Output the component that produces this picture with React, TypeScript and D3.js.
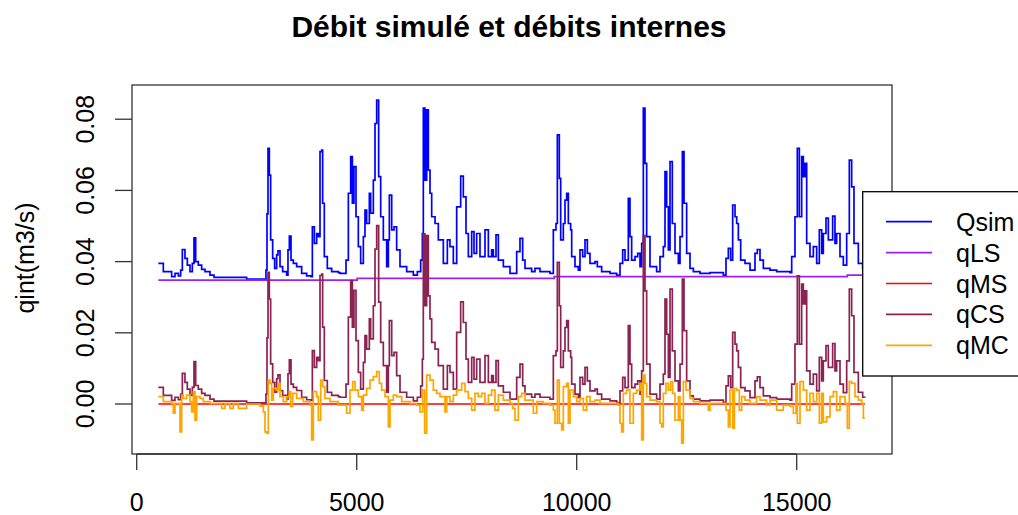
import React from 'react';
import * as d3 from 'd3';

// time steps shared by Qsim and qCS
const steps = [491, 605, 794, 870, 946, 999, 1037, 1097, 1150, 1211, 1264, 1302, 1340, 1400, 1476, 1552, 1666, 1757, 2461, 2499,
  2916, 2938, 2961, 2984, 3014, 3044, 3090, 3135, 3181, 3211, 3257, 3317, 3408, 3438, 3469, 3507, 3560, 3635, 3749, 3863,
  3961, 3992, 4037, 4090, 4128, 4166, 4204, 4226, 4264, 4332, 4431, 4582, 4620, 4734, 4757, 4810, 4863, 4901, 4938, 4984,
  5037, 5090, 5151, 5188, 5226, 5287, 5317, 5378, 5416, 5454, 5499, 5545, 5605, 5681, 5719, 5742, 5795, 5848, 5908, 5984,
  6135, 6287, 6378, 6454, 6492, 6514, 6552, 6590, 6628, 6666, 6704, 6780, 6855, 6969, 7060, 7120, 7196, 7272, 7363, 7423,
  7484, 7537, 7613, 7666, 7726, 7802, 7916, 7992, 8067, 8105, 8166, 8219, 8333, 8484, 8598, 8636, 8711, 8772, 8825, 8976,
  9052, 9166, 9393, 9469, 9529, 9560, 9605, 9636, 9696, 9734, 9772, 9810, 9863, 9886, 9961, 10037, 10075, 10136, 10189, 10242,
  10302, 10416, 10469, 10567, 10757, 10908, 10984, 11045, 11098, 11173, 11211, 11249, 11325, 11386, 11439, 11477, 11514, 11552, 11590, 11666,
  11817, 11893, 11969, 12007, 12045, 12083, 12121, 12173, 12234, 12310, 12348, 12401, 12439, 12499, 12575, 12651, 12802, 13030, 13333, 13393,
  13446, 13499, 13545, 13598, 13636, 13674, 13727, 13825, 13939, 14052, 14105, 14166, 14242, 14393, 14545, 14696, 14848, 14886, 14961, 15014,
  15060, 15113, 15151, 15189, 15227, 15302, 15378, 15454, 15514, 15567, 15605, 15666, 15719, 15817, 15870, 15908, 15984, 16060, 16136, 16196,
  16249, 16302, 16401, 16499, 16550];

const qsim = [0.0395, 0.0372, 0.0358, 0.0367, 0.0360, 0.0376, 0.0434, 0.0409, 0.0390, 0.0372, 0.0395, 0.0467, 0.0400, 0.0390, 0.0378, 0.0372, 0.0362, 0.0356, 0.0356, 0.0351,
  0.0351, 0.0376, 0.0534, 0.0718, 0.0643, 0.0461, 0.0409, 0.0381, 0.0419, 0.0430, 0.0386, 0.0372, 0.0362, 0.0433, 0.0472, 0.0404, 0.0395, 0.0386, 0.0367, 0.0360,
  0.0358, 0.0498, 0.0451, 0.0479, 0.0470, 0.0709, 0.0713, 0.0564, 0.0414, 0.0381, 0.0372, 0.0369, 0.0367, 0.0367, 0.0404, 0.0592, 0.0695, 0.0564, 0.0667, 0.0526,
  0.0442, 0.0395, 0.0470, 0.0545, 0.0507, 0.0592, 0.0536, 0.0629, 0.0788, 0.0854, 0.0639, 0.0526, 0.0461, 0.0386, 0.0461, 0.0587, 0.0489, 0.0498, 0.0433, 0.0386,
  0.0372, 0.0362, 0.0372, 0.0404, 0.0479, 0.0831, 0.0629, 0.0826, 0.0657, 0.0592, 0.0526, 0.0507, 0.0461, 0.0395, 0.0461, 0.0442, 0.0395, 0.0554, 0.0640, 0.0582,
  0.0479, 0.0414, 0.0484, 0.0423, 0.0479, 0.0414, 0.0489, 0.0414, 0.0433, 0.0414, 0.0475, 0.0404, 0.0386, 0.0367, 0.0367, 0.0428, 0.0465, 0.0404, 0.0381, 0.0372,
  0.0381, 0.0372, 0.0367, 0.0489, 0.0507, 0.0756, 0.0634, 0.0461, 0.0507, 0.0573, 0.0592, 0.0507, 0.0489, 0.0414, 0.0386, 0.0376, 0.0433, 0.0414, 0.0461, 0.0423,
  0.0395, 0.0400, 0.0386, 0.0372, 0.0367, 0.0362, 0.0395, 0.0433, 0.0404, 0.0578, 0.0470, 0.0404, 0.0414, 0.0423, 0.0386, 0.0451, 0.0831, 0.0676, 0.0470, 0.0386,
  0.0372, 0.0414, 0.0442, 0.0653, 0.0554, 0.0433, 0.0681, 0.0507, 0.0423, 0.0395, 0.0470, 0.0709, 0.0564, 0.0423, 0.0381, 0.0372, 0.0367, 0.0369, 0.0362, 0.0409,
  0.0437, 0.0404, 0.0559, 0.0526, 0.0507, 0.0461, 0.0404, 0.0395, 0.0376, 0.0423, 0.0434, 0.0404, 0.0381, 0.0376, 0.0372, 0.0372, 0.0369, 0.0414, 0.0526, 0.0718,
  0.0526, 0.0695, 0.0639, 0.0676, 0.0451, 0.0414, 0.0442, 0.0395, 0.0489, 0.0423, 0.0479, 0.0522, 0.0461, 0.0528, 0.0451, 0.0479, 0.0414, 0.0390, 0.0479, 0.0685,
  0.0610, 0.0451, 0.0395, 0.0381, 0.0380];

const qcs = [0.0047, 0.0024, 0.0010, 0.0019, 0.0012, 0.0028, 0.0086, 0.0061, 0.0042, 0.0024, 0.0047, 0.0119, 0.0052, 0.0042, 0.0030, 0.0024, 0.0014, 0.0008, 0.0008, 0.0003,
  0.0003, 0.0028, 0.0186, 0.0370, 0.0295, 0.0113, 0.0061, 0.0033, 0.0071, 0.0082, 0.0038, 0.0024, 0.0014, 0.0085, 0.0124, 0.0056, 0.0047, 0.0038, 0.0019, 0.0012,
  0.0010, 0.0150, 0.0103, 0.0131, 0.0122, 0.0361, 0.0365, 0.0216, 0.0066, 0.0033, 0.0024, 0.0021, 0.0019, 0.0019, 0.0056, 0.0244, 0.0347, 0.0216, 0.0319, 0.0178,
  0.0089, 0.0042, 0.0117, 0.0192, 0.0154, 0.0239, 0.0183, 0.0276, 0.0435, 0.0501, 0.0286, 0.0173, 0.0108, 0.0033, 0.0108, 0.0234, 0.0136, 0.0145, 0.0080, 0.0033,
  0.0019, 0.0009, 0.0019, 0.0051, 0.0126, 0.0478, 0.0276, 0.0473, 0.0304, 0.0239, 0.0173, 0.0154, 0.0108, 0.0042, 0.0108, 0.0089, 0.0042, 0.0201, 0.0287, 0.0229,
  0.0126, 0.0061, 0.0131, 0.0070, 0.0126, 0.0061, 0.0136, 0.0061, 0.0080, 0.0061, 0.0122, 0.0051, 0.0033, 0.0014, 0.0014, 0.0075, 0.0112, 0.0051, 0.0028, 0.0019,
  0.0028, 0.0019, 0.0014, 0.0136, 0.0149, 0.0398, 0.0276, 0.0103, 0.0149, 0.0215, 0.0234, 0.0149, 0.0131, 0.0056, 0.0028, 0.0018, 0.0075, 0.0056, 0.0103, 0.0065,
  0.0037, 0.0042, 0.0028, 0.0014, 0.0009, 0.0004, 0.0037, 0.0075, 0.0046, 0.0220, 0.0112, 0.0046, 0.0056, 0.0065, 0.0028, 0.0093, 0.0473, 0.0318, 0.0112, 0.0028,
  0.0014, 0.0056, 0.0084, 0.0295, 0.0196, 0.0075, 0.0323, 0.0149, 0.0065, 0.0037, 0.0112, 0.0351, 0.0206, 0.0065, 0.0023, 0.0014, 0.0009, 0.0011, 0.0004, 0.0051,
  0.0079, 0.0046, 0.0201, 0.0168, 0.0149, 0.0103, 0.0046, 0.0037, 0.0018, 0.0065, 0.0076, 0.0046, 0.0023, 0.0018, 0.0014, 0.0014, 0.0011, 0.0056, 0.0168, 0.0360,
  0.0168, 0.0337, 0.0281, 0.0318, 0.0093, 0.0056, 0.0084, 0.0037, 0.0131, 0.0065, 0.0121, 0.0164, 0.0103, 0.0170, 0.0093, 0.0121, 0.0056, 0.0032, 0.0121, 0.0323,
  0.0248, 0.0089, 0.0033, 0.0019, 0.0018];

// qLS: slow component, a few plateaus
const lsSteps = [491, 5010, 9490, 16150, 16550];
const qls = [0.0348, 0.0353, 0.0358, 0.0362, 0.0362];

// qMS: flat zero
const msSteps = [491, 16550];
const qms = [0, 0];

// qMC: small positive bumps, negative spikes
const mcSteps = [491, 605, 794, 832, 870, 984, 1022, 1060, 1135, 1211, 1249, 1287, 1325, 1363, 1438, 1514, 1666, 1931, 2007, 2120,
  2196, 2310, 2499, 2802, 2878, 2916, 2954, 2991, 3029, 3067, 3105, 3181, 3219, 3257, 3332, 3408, 3469, 3499, 3545, 3635,
  3787, 3938, 3976, 4014, 4090, 4128, 4181, 4226, 4279, 4393, 4582, 4696, 4772, 4848, 4908, 4961, 5037, 5113, 5151, 5226,
  5302, 5378, 5454, 5514, 5567, 5643, 5719, 5757, 5832, 5908, 6022, 6211, 6363, 6439, 6499, 6545, 6590, 6666, 6742, 6817,
  6893, 7007, 7045, 7120, 7196, 7272, 7386, 7461, 7537, 7613, 7688, 7764, 7840, 7916, 7992, 8067, 8143, 8219, 8333, 8484,
  8545, 8598, 8673, 8749, 8825, 9014, 9090, 9242, 9393, 9469, 9507, 9560, 9605, 9658, 9696, 9772, 9810, 9848, 9923, 9999,
  10075, 10151, 10226, 10302, 10416, 10530, 10757, 10946, 10984, 11022, 11060, 11135, 11211, 11287, 11363, 11439, 11477, 11514, 11552, 11590,
  11666, 11817, 11893, 11931, 11969, 12029, 12083, 12136, 12181, 12234, 12310, 12348, 12386, 12424, 12484, 12575, 12651, 12802, 12992, 13030,
  13333, 13393, 13446, 13484, 13545, 13583, 13636, 13696, 13749, 13825, 13939, 14090, 14166, 14317, 14393, 14545, 14696, 14848, 14923, 14984,
  15014, 15075, 15151, 15227, 15302, 15378, 15454, 15514, 15567, 15605, 15681, 15757, 15833, 15908, 15984, 16098, 16151, 16196, 16249, 16325,
  16401, 16477, 16515, 16550];

const qmc = [0.0021, 0.0007, 0.0002, -0.0026, 0.0002, -0.0078, 0.0025, 0.0016, 0.0025, 0.0007, -0.0022, 0.0035, -0.0045, 0.0021, 0.0016, 0.0007, 0.0002, -0.0012, 0.0002, -0.0012,
  0.0002, -0.0012, 0.0000, -0.0006, -0.0022, -0.0078, -0.0082, 0.0067, 0.0058, 0.0011, 0.0044, 0.0039, 0.0058, 0.0021, 0.0007, 0.0021, 0.0035, -0.0007, 0.0030, 0.0016,
  0.0007, -0.0003, -0.0101, 0.0035, 0.0021, -0.0045, 0.0067, 0.0049, 0.0016, 0.0007, -0.0003, -0.0003, -0.0026, 0.0039, 0.0063, 0.0039, 0.0021, -0.0017, 0.0025, 0.0044,
  0.0067, 0.0077, 0.0091, 0.0058, 0.0039, 0.0021, -0.0064, 0.0011, 0.0025, 0.0021, 0.0007, 0.0002, -0.0003, -0.0022, 0.0039, -0.0082, 0.0081, 0.0067, 0.0039, 0.0030,
  0.0021, -0.0022, 0.0021, 0.0007, 0.0025, 0.0039, 0.0058, 0.0035, 0.0016, -0.0017, 0.0030, 0.0021, 0.0030, 0.0002, 0.0025, 0.0039, -0.0017, 0.0025, 0.0011, 0.0002,
  -0.0012, -0.0045, 0.0021, 0.0030, 0.0011, -0.0026, 0.0007, 0.0002, -0.0003, -0.0017, -0.0054, 0.0067, -0.0054, -0.0073, 0.0049, 0.0058, -0.0054, 0.0039, 0.0021, 0.0007,
  0.0016, -0.0017, 0.0021, 0.0007, 0.0011, 0.0002, 0.0002, -0.0003, -0.0054, -0.0078, 0.0030, 0.0039, -0.0054, 0.0030, 0.0039, 0.0058, -0.0101, 0.0081, 0.0058, 0.0021,
  0.0011, 0.0007, -0.0054, -0.0064, 0.0030, 0.0058, 0.0039, 0.0063, 0.0030, -0.0045, 0.0021, -0.0045, -0.0110, 0.0063, 0.0039, 0.0016, 0.0007, 0.0002, -0.0017, 0.0002,
  0.0002, -0.0017, -0.0064, 0.0039, -0.0068, 0.0044, 0.0039, -0.0017, 0.0021, 0.0011, 0.0002, 0.0021, 0.0011, -0.0003, 0.0011, -0.0017, -0.0003, -0.0007, -0.0026, 0.0058,
  -0.0054, 0.0063, 0.0039, -0.0017, 0.0030, 0.0007, 0.0030, -0.0054, 0.0030, -0.0050, -0.0036, 0.0021, 0.0035, -0.0017, 0.0021, 0.0002, -0.0068, 0.0063, 0.0058, 0.0021,
  0.0011, 0.0002, -0.0040, -0.0040];

const legendLabels = ['Qsim', 'qLS', 'qMS', 'qCS', 'qMC'];
const legendColors = ['#0000FF', '#A020F0', '#FF0000', '#8B2252', '#FFA500'];
const xTicks = [0, 5000, 10000, 15000];
const yTicks = [0, 0.02, 0.04, 0.06, 0.08];

const W = 1018, H = 515;
const box = { left: 132, right: 892, top: 85, bottom: 454 };
const font = '"Liberation Sans", Arial, sans-serif';

const App = () => {
  const xScale = d3.scaleLinear().domain([-107, 17166]).range([box.left, box.right]);
  const yScale = d3.scaleLinear().domain([-0.01404, 0.08961]).range([box.bottom, box.top]);

  const mkLine = (xs: number[], ys: number[]) => {
    const pts = xs.map((x, i) => [x, ys[i]] as [number, number]);
    return d3.line<[number, number]>()
      .x(d => xScale(d[0]))
      .y(d => yScale(d[1]))
      .curve(d3.curveStepAfter)(pts) || '';
  };

  const series = [
    { d: mkLine(steps, qsim), color: legendColors[0] },
    { d: mkLine(lsSteps, qls), color: legendColors[1] },
    { d: mkLine(msSteps, qms), color: legendColors[2] },
    { d: mkLine(steps, qcs), color: legendColors[3] },
    { d: mkLine(mcSteps, qmc), color: legendColors[4] },
  ];

  const legendTop = 191.7;
  const rowH = 30.9;

  return (
    <svg width={W} height={H} style={{ position: 'absolute', left: 0, top: 0, background: '#fff' }} fontFamily={font}>
      <rect x={0} y={0} width={W} height={H} fill="#fff" />
      <text x={509} y={36.7} textAnchor="middle" fontSize={30} fontWeight="bold" fill="#000">
        Débit simulé et débits internes
      </text>

      {series.map((s, i) => (
        <path key={i} d={s.d} fill="none" stroke={s.color} strokeWidth={1.7} />
      ))}

      <rect x={box.left} y={box.top} width={box.right - box.left} height={box.bottom - box.top}
        fill="none" stroke="#333" strokeWidth={1.3} />

      {/* x axis */}
      <line x1={xScale(xTicks[0])} x2={xScale(xTicks[xTicks.length - 1])} y1={box.bottom} y2={box.bottom} stroke="#333" strokeWidth={1.3} />
      {xTicks.map(t => (
        <g key={t}>
          <line x1={xScale(t)} x2={xScale(t)} y1={box.bottom} y2={box.bottom + 16} stroke="#333" strokeWidth={1.3} />
          <text x={xScale(t)} y={511} textAnchor="middle" fontSize={25} fill="#000">{t}</text>
        </g>
      ))}

      {/* y axis */}
      {yTicks.map(t => (
        <g key={t}>
          <line x1={box.left - 17} x2={box.left} y1={yScale(t)} y2={yScale(t)} stroke="#333" strokeWidth={1.3} />
          <text transform={`translate(94,${yScale(t)}) rotate(-90)`} textAnchor="middle" fontSize={25} fill="#000">
            {t.toFixed(2)}
          </text>
        </g>
      ))}
      <text transform={`translate(34,258) rotate(-90)`} textAnchor="middle" fontSize={25} fill="#000">qint(m3/s)</text>

      {/* legend */}
      <rect x={862.7} y={legendTop} width={200} height={184.3} fill="#fff" stroke="#000" strokeWidth={1.3} />
      {legendLabels.map((lab, i) => {
        const y = legendTop + 30 + i * rowH;
        return (
          <g key={lab}>
            <line x1={886} x2={932} y1={y} y2={y} stroke={legendColors[i]} strokeWidth={1.7} />
            <text x={956} y={y + 9} fontSize={25} fill="#000">{lab}</text>
          </g>
        );
      })}
    </svg>
  );
};

export default App;
